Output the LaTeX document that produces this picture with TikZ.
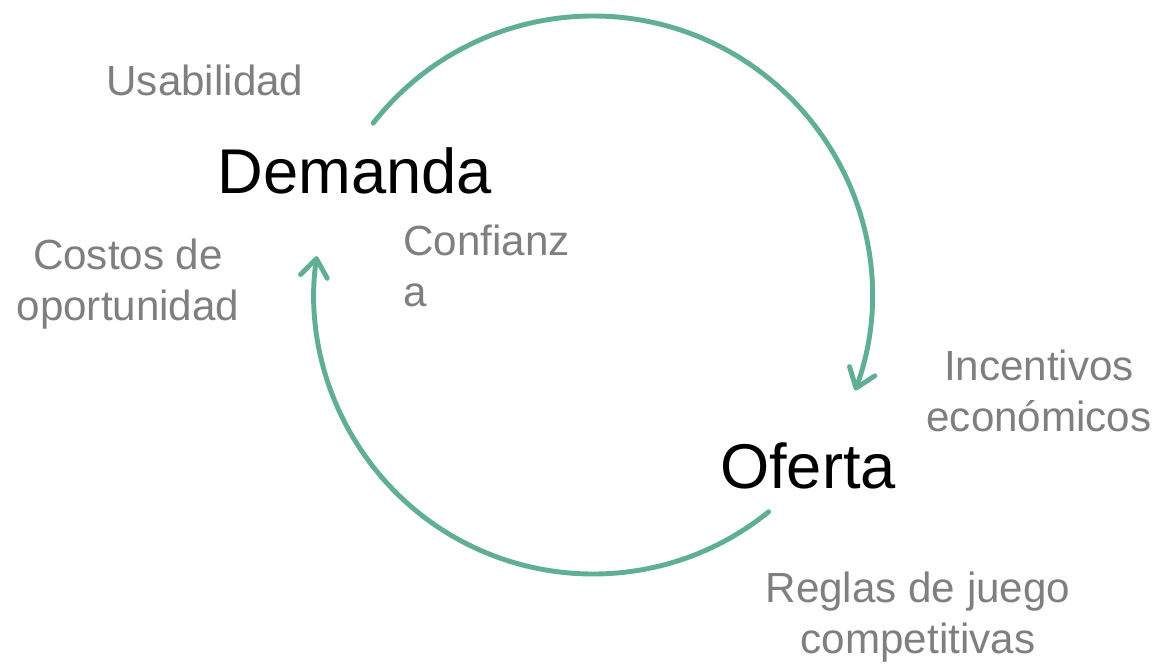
\documentclass[tikz,border=0pt]{standalone}
\usepackage{fontspec}
\setmainfont{Liberation Sans}
\usepackage{tikz}
\usetikzlibrary{arrows.meta, positioning}

\definecolor{cyclegreen}{RGB}{96,174,148}
\definecolor{factorgray}{RGB}{127,127,127}

\begin{document}
\begin{tikzpicture}[
        x=0.02cm, y=0.02cm,
        main/.style={anchor=base, inner sep=0pt, text=black, font=\fontsize{36}{43}\selectfont},
        factor/.style={anchor=base, inner sep=0pt, text=factorgray, align=center, font=\fontsize{24}{28.5}\selectfont},
        cyc/.style={draw=cyclegreen, line width=2.8pt, line cap=round, -{Straight Barb[length=3.6mm, width=5.4mm, round]}}
    ]
    \useasboundingbox (0,0) rectangle (1159,664);

    % Centro del ciclo
    \coordinate (center) at (593,369);

    % Actores
    \node (demanda) [main] at (355,471) {Demanda};
    \node (oferta) [main] at (808,176) {Oferta};

    % Factores (base = ultima linea)
    \node (usabilidad) [factor] at (205,569) {Usabilidad};
    \node (costos) [factor] at (128,344) {Costos de\\oportunidad};
    \node (confianza) [factor, align=left, anchor=base west] at (403,358) {Confianz\\a};
    \node (incentivos) [factor] at (1039,233) {Incentivos\\económicos};
    \node (reglas) [factor] at (918,11) {Reglas de juego\\competitivas};

    % Flechas del ciclo
    \draw [cyc] (center) ++(142:279) arc[start angle=142, end angle=-20, radius=279];
    \draw [cyc] (center) ++(-51:279) arc[start angle=-51, end angle=-188, radius=279];

\end{tikzpicture}
\end{document}
